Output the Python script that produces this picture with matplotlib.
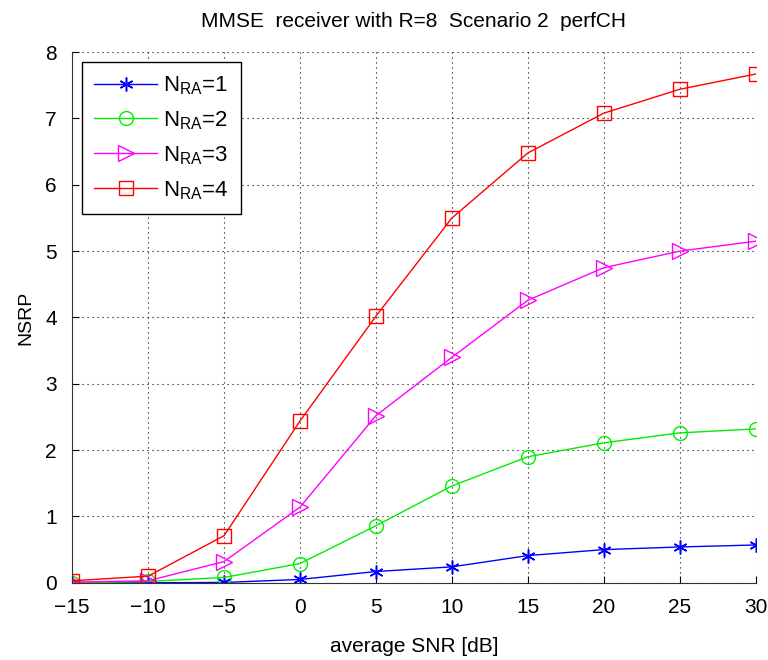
import matplotlib
matplotlib.use("Agg")
import matplotlib.pyplot as plt

plt.rcParams['font.family'] = ['Liberation Sans', 'DejaVu Sans']
plt.rcParams['mathtext.fontset'] = 'custom'
plt.rcParams['mathtext.rm'] = 'Liberation Sans'
plt.rcParams['mathtext.it'] = 'Liberation Sans'

snr = [-15, -10, -5, 0, 5, 10, 15, 20, 25, 30]
nra1 = [0.0, 0.0, 0.005, 0.05, 0.17, 0.24, 0.41, 0.50, 0.54, 0.57]
nra2 = [0.0, 0.02, 0.08, 0.29, 0.86, 1.46, 1.90, 2.11, 2.26, 2.32]
nra3 = [0.01, 0.03, 0.32, 1.14, 2.52, 3.40, 4.26, 4.75, 5.00, 5.15]
nra4 = [0.03, 0.10, 0.71, 2.44, 4.02, 5.50, 6.48, 7.08, 7.44, 7.67]
labels = [r'N$_{\rm RA}$=1', r'N$_{\rm RA}$=2', r'N$_{\rm RA}$=3', r'N$_{\rm RA}$=4']
xticks = [-15, -10, -5, 0, 5, 10, 15, 20, 25, 30]
xticklabels = ['\u221215', '\u221210', '\u22125', '0', '5', '10', '15', '20', '25', '30']
yticks = [0, 1, 2, 3, 4, 5, 6, 7, 8]

fig = plt.figure(figsize=(7.68, 6.6), dpi=100)
ax = fig.add_axes([0.094, 0.117, 0.890, 0.804])

ax.plot(snr, nra1, color='#0000ff', marker=(6, 2, 0), markersize=10, mew=1.1, lw=1, label=labels[0])
ax.plot(snr, nra2, color='#00ee00', marker='o', markersize=10, lw=1, label=labels[1], mfc='none')
ax.plot(snr, nra3, color='#ff00ff', marker='>', markersize=11, lw=1, label=labels[2], mfc='none')
ax.plot(snr, nra4, color='#ff0000', marker='s', markersize=9.5, lw=1, label=labels[3], mfc='none')

ax.set_xlim(-15, 30)
ax.set_ylim(0, 8)
ax.set_xticks(xticks)
ax.set_yticks(yticks)
ax.set_xticklabels(xticklabels)
ax.tick_params(direction='in', labelsize=15, length=5, top=False, right=False)
ax.tick_params(axis='x', pad=11)
ax.tick_params(axis='y', pad=11)
ax.grid(True, color='black', linestyle=(0, (1, 3.5)), linewidth=0.8)
for s in ['top', 'right']:
    ax.spines[s].set_visible(False)
ax.spines['left'].set_color('#333333')
ax.spines['bottom'].set_color('#333333')

ax.set_xlabel('average SNR [dB]', fontsize=15, labelpad=14)
ax.set_ylabel('NSRP', fontsize=14, labelpad=8)
ax.set_title('MMSE  receiver with R=8  Scenario 2  perfCH', fontsize=15, pad=18)

leg = ax.legend(loc='upper left', fontsize=16, fancybox=False, framealpha=1,
                edgecolor='black', handlelength=2.8, handletextpad=0.3,
                borderpad=0.55, labelspacing=0.55, borderaxespad=0,
                bbox_to_anchor=(0.0146, 0.981))
leg.get_frame().set_linewidth(1.0)

fig.savefig('out.png', dpi=100)
